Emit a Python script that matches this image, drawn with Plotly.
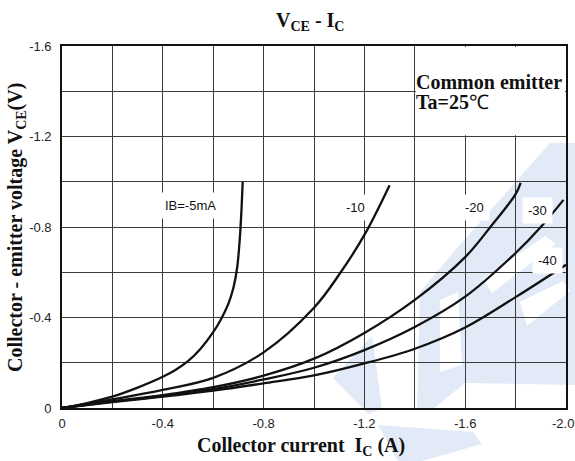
import plotly.graph_objects as go

# ---- data ----
ib5_x = [0, -0.1, -0.2, -0.3, -0.4, -0.45, -0.5, -0.55, -0.6, -0.63, -0.66, -0.68, -0.695, -0.705, -0.712, -0.717]
ib5_y = [0, -0.022, -0.05, -0.09, -0.138, -0.168, -0.207, -0.262, -0.335, -0.39, -0.46, -0.53, -0.62, -0.74, -0.87, -1.0]

ib10_x = [0, -0.2, -0.4, -0.6, -0.8, -1.0, -1.1, -1.2, -1.3]
ib10_y = [0, -0.038, -0.08, -0.133, -0.246, -0.443, -0.59, -0.765, -0.985]

ib20_x = [0, -0.2, -0.4, -0.6, -0.8, -1.0, -1.2, -1.4, -1.6, -1.7, -1.8, -1.82]
ib20_y = [0, -0.03, -0.057, -0.092, -0.143, -0.218, -0.332, -0.478, -0.667, -0.80, -0.945, -0.995]

ib30_x = [0, -0.2, -0.4, -0.6, -0.8, -1.0, -1.2, -1.4, -1.6, -1.8, -1.9, -1.99]
ib30_y = [0, -0.028, -0.053, -0.083, -0.126, -0.178, -0.256, -0.358, -0.492, -0.685, -0.80, -0.92]

ib40_x = [0, -0.2, -0.4, -0.6, -0.8, -1.0, -1.2, -1.4, -1.6, -1.8, -2.0]
ib40_y = [0, -0.026, -0.05, -0.077, -0.109, -0.144, -0.197, -0.262, -0.356, -0.49, -0.633]

curve_labels = ["IB=-5mA", "-10", "-20", "-30", "-40"]
label_x = [-0.508, -1.163, -1.638, -1.888, -1.926]
label_y = [-0.897, -0.888, -0.887, -0.875, -0.654]

x_ticks = [0, -0.2, -0.4, -0.6, -0.8, -1.0, -1.2, -1.4, -1.6, -1.8, -2.0]
x_ticktext = ["0", "", "-0.4", "", "-0.8", "", "-1.2", "", "-1.6", "", ""]
x_last_label = "-2.0"   # drawn right-aligned at the page edge, as in the reference
y_ticks = [0, -0.2, -0.4, -0.6, -0.8, -1.0, -1.2, -1.4, -1.6]
y_ticktext = ["0", "", "-0.4", "", "-0.8", "", "-1.2", "", "-1.6"]

# ---- layout geometry ----
W, H = 575, 461
ML, MR, MT, MB = 62, 9, 46, 53
PW, PH = W - ML - MR, H - MT - MB

def px(xp, yp):
    return (xp - ML) / PW, (H - MB - yp) / PH

def poly(points):
    pts = [px(a, b) for a, b in points]
    return "M " + " L ".join(f"{a:.4f},{b:.4f}" for a, b in pts) + " Z"

wm_color = "rgb(226,234,247)"
# faint logo watermark (decorative), as (polygon, colour)
watermark = [
    ([(550, 143), (575, 143), (575, 385), (465, 383), (432, 410), (417, 410), (420, 292), (458, 247)], wm_color),
    ([(483, 279), (545, 236), (556, 244), (492, 293)], "white"),
    ([(520, 302), (563, 281), (570, 291), (527, 326)], "white"),
    ([(440, 300), (458, 292), (462, 365), (440, 372)], "white"),
    ([(333, 378), (372, 336), (382, 409), (368, 414)], wm_color),
    ([(378, 425), (473, 432), (482, 444), (422, 461), (398, 461)], wm_color),
]

fig = go.Figure()
for xs, ys in [(ib5_x, ib5_y), (ib10_x, ib10_y), (ib20_x, ib20_y), (ib30_x, ib30_y), (ib40_x, ib40_y)]:
    fig.add_trace(go.Scatter(x=xs, y=ys, mode="lines",
                             line=dict(color="#111111", width=2.3, shape="spline", smoothing=1.0),
                             showlegend=False, hoverinfo="skip"))

shapes = []
for pts, col in watermark:
    shapes.append(dict(type="path", path=poly(pts), xref="paper", yref="paper",
                       fillcolor=col, line=dict(width=0), layer="below"))
# white box behind the "Common emitter" note
shapes.append(dict(type="rect", xref="x", yref="y", x0=-1.404, x1=-1.996, y0=-1.205, y1=-1.596,
                   fillcolor="white", line=dict(width=0), layer="between"))
fig.update_layout(shapes=shapes)

lab_font = dict(family="Liberation Sans, Arial", size=13, color="#111111")
for t, x, y in zip(curve_labels, label_x, label_y):
    fig.add_annotation(x=x, y=y, text=t, showarrow=False, font=lab_font,
                       bgcolor="white", borderpad=5, xanchor="center", yanchor="middle")

tick_font = dict(family="Liberation Sans, Arial", size=13, color="#222222")
fig.add_annotation(xref="paper", yref="paper", x=px(575, 0)[0], y=px(0, 424)[1],
                   text=x_last_label, showarrow=False, font=tick_font,
                   xanchor="right", yanchor="middle", borderpad=0)

serif_b = dict(family="Liberation Serif, Times New Roman", size=20, color="#111111", weight="bold")
fig.add_annotation(x=-1.401, y=-1.441, text="Common emitter", showarrow=False, font=serif_b,
                   xanchor="left", yanchor="middle", borderpad=0)
fig.add_annotation(x=-1.401, y=-1.353, text="Ta=25<span style='font-weight:normal'>℃</span>",
                   showarrow=False, font=serif_b, xanchor="left", yanchor="middle", borderpad=0)

title_font = dict(family="Liberation Serif, Times New Roman", size=20, color="#111111", weight="bold")
fig.add_annotation(xref="paper", yref="paper", x=px(310, 0)[0], y=px(0, 21)[1],
                   text="V<sub>CE</sub> - I<sub>C</sub>", showarrow=False, font=title_font,
                   xanchor="center", yanchor="middle")
fig.add_annotation(xref="paper", yref="paper", x=px(301, 0)[0], y=px(0, 446)[1],
                   text="Collector current  I<sub>C</sub> (A)", showarrow=False, font=title_font,
                   xanchor="center", yanchor="middle")
fig.add_annotation(xref="paper", yref="paper", x=px(17, 0)[0], y=px(0, 228)[1],
                   text="Collector - emitter voltage V<sub>CE</sub>(V)", showarrow=False,
                   font=title_font, textangle=-90, xanchor="center", yanchor="middle")

grid_col = "#3c3c3c"
fig.update_xaxes(range=[0, -2.0], tickmode="array", tickvals=x_ticks, ticktext=x_ticktext,
                 showgrid=True, gridcolor=grid_col, gridwidth=1.2, zeroline=False,
                 showline=True, linecolor="#111111", linewidth=1.6, mirror=True,
                 ticks="outside", ticklen=3, tickcolor="rgba(0,0,0,0)", automargin=False,
                 tickfont=tick_font)
fig.update_yaxes(range=[0, -1.6], tickmode="array", tickvals=y_ticks, ticktext=y_ticktext,
                 showgrid=True, gridcolor=grid_col, gridwidth=1.2, zeroline=False,
                 showline=True, linecolor="#111111", linewidth=1.6, mirror=True,
                 ticks="outside", ticklen=6, tickcolor="rgba(0,0,0,0)", automargin=False,
                 tickfont=tick_font)

fig.update_layout(width=W, height=H, margin=dict(l=ML, r=MR, t=MT, b=MB, autoexpand=False),
                  paper_bgcolor="white", plot_bgcolor="white", showlegend=False)

fig.write_html("out.html", config={"displayModeBar": False},
               post_script="document.body.style.margin='0px';document.body.style.padding='0px';"
                           "document.body.style.overflow='hidden';")
